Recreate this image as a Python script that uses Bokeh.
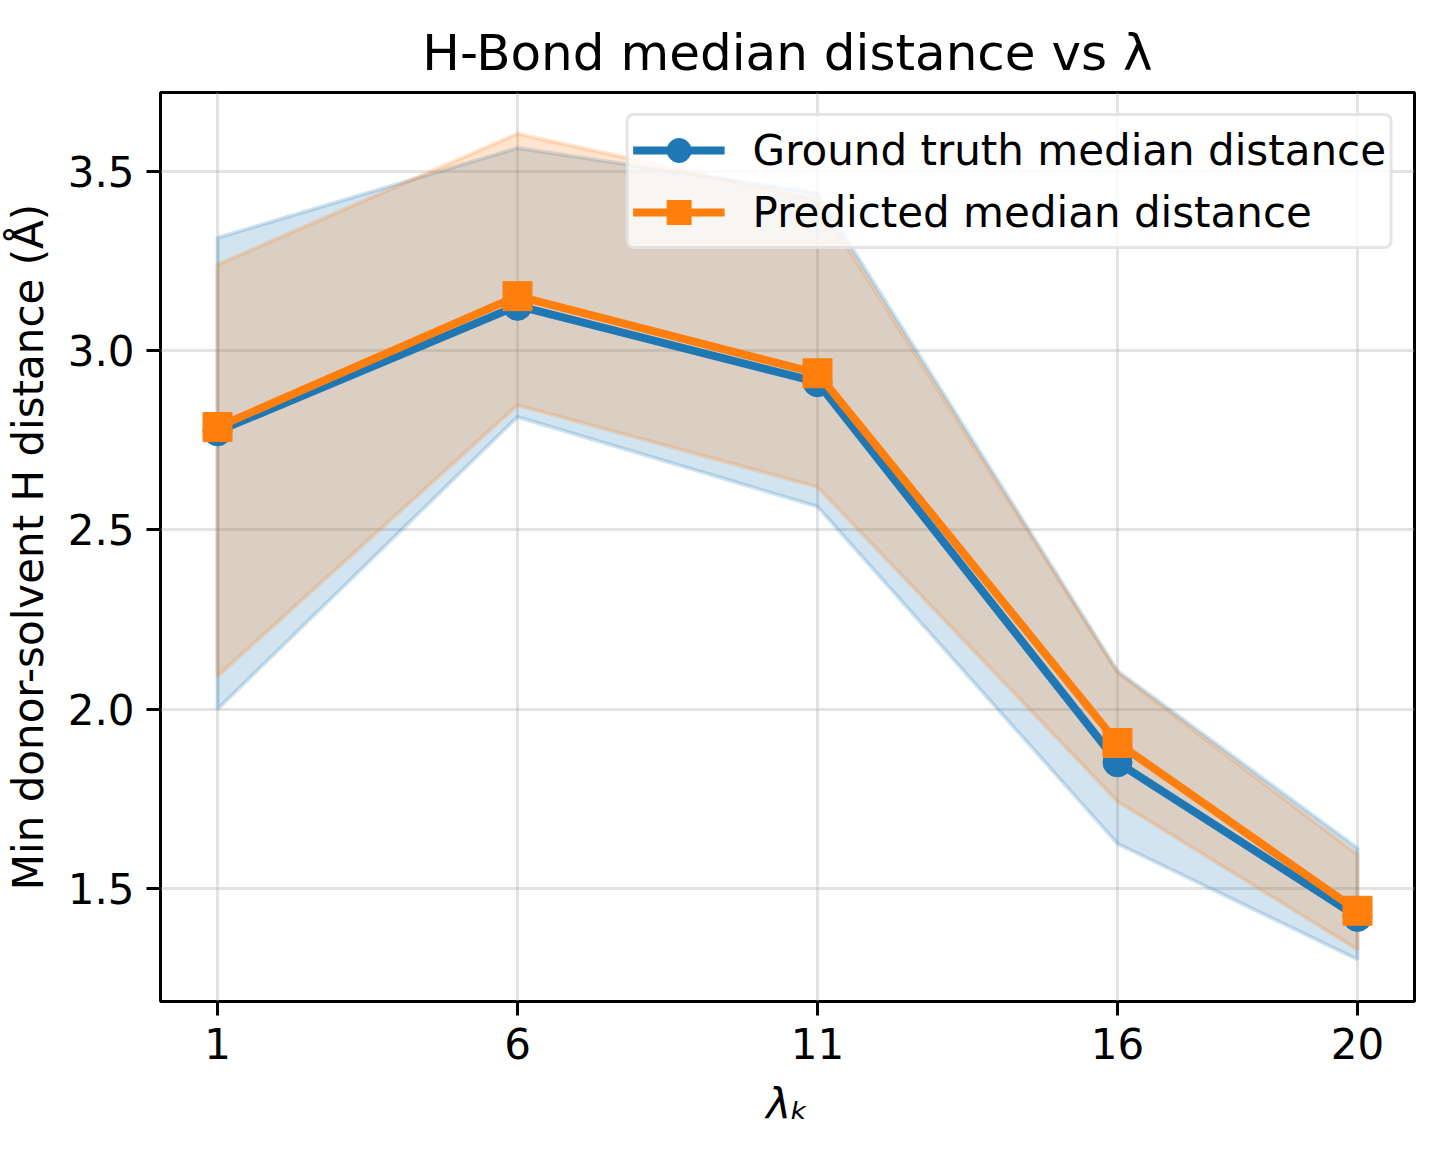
from bokeh.plotting import figure
from bokeh.models import Range1d, FixedTicker, Legend, LegendItem, PrintfTickFormatter
from bokeh.embed import file_html
from bokeh.resources import INLINE

# lambda windows
lam = [1, 6, 11, 16, 20]
tick_labels = ["1", "6", "11", "16", "20"]
y_ticks = [1.5, 2.0, 2.5, 3.0, 3.5]

# ground truth median distance with its spread band
gt_median = [2.775, 3.125, 2.912, 1.852, 1.421]
gt_lower = [2.00, 2.815, 2.565, 1.625, 1.302]
gt_upper = [3.315, 3.565, 3.44, 2.107, 1.613]

# predicted median distance with its spread band
pred_median = [2.787, 3.152, 2.937, 1.906, 1.438]
pred_lower = [2.092, 2.848, 2.62, 1.743, 1.330]
pred_upper = [3.240, 3.605, 3.42, 2.102, 1.595]

BLUE = "#1f77b4"
ORANGE = "#ff7f0e"
FONT = "DejaVu Sans"

p = figure(
    width=1444, height=1160,
    output_backend="svg", toolbar_location=None,
    x_range=Range1d(0.05, 20.95), y_range=Range1d(1.185, 3.72),
    min_border_left=160, min_border_right=30,
    min_border_top=92, min_border_bottom=159,
    title="H-Bond median distance vs λ",
)
p.background_fill_color = "white"
p.border_fill_color = "white"
p.outline_line_color = "black"
p.outline_line_width = 3

p.title.text_font = FONT
p.title.text_font_size = "50px"
p.title.text_font_style = "normal"
p.title.text_color = "black"
p.title.align = "center"
p.title.standoff = 22

# spread bands (closed polygon upper -> lower)
def band(lower, upper, color):
    xs = list(lam) + list(lam[::-1])
    ys = list(upper) + list(lower[::-1])
    p.patch(xs, ys, fill_color=color, fill_alpha=0.2,
            line_color=color, line_alpha=0.2, line_width=4)

band(gt_lower, gt_upper, BLUE)
band(pred_lower, pred_upper, ORANGE)

gt_line = p.line(lam, gt_median, line_color=BLUE, line_width=8)
gt_pts = p.scatter(lam, gt_median, marker="circle", size=29,
                   fill_color=BLUE, line_color=BLUE)
pr_line = p.line(lam, pred_median, line_color=ORANGE, line_width=8)
pr_pts = p.scatter(lam, pred_median, marker="square", size=29,
                   fill_color=ORANGE, line_color=ORANGE)

# axes
for ax in (p.xaxis[0], p.yaxis[0]):
    ax.axis_line_color = None
    ax.major_tick_line_color = "black"
    ax.major_tick_line_width = 3
    ax.major_tick_out = 14
    ax.major_tick_in = 0
    ax.minor_tick_line_color = None
    ax.major_label_text_font = FONT
    ax.major_label_text_font_size = "42px"
    ax.major_label_text_color = "black"
    ax.major_label_standoff = 12
    ax.axis_label_text_font = FONT
    ax.axis_label_text_font_size = "42px"
    ax.axis_label_text_color = "black"

p.xaxis.ticker = FixedTicker(ticks=lam)
p.xaxis.major_label_overrides = {v: s for v, s in zip(lam, tick_labels)}
p.xaxis.axis_label = "λₖ"
p.xaxis.axis_label_text_font_style = "italic"
p.xaxis.axis_label_standoff = 18

p.yaxis.ticker = FixedTicker(ticks=y_ticks)
p.yaxis.formatter = PrintfTickFormatter(format="%.1f")
p.yaxis.axis_label = "Min donor-solvent H distance (Å)"
p.yaxis.axis_label_text_font_style = "normal"
p.yaxis.axis_label_standoff = 12

for g in (p.xgrid[0], p.ygrid[0]):
    g.grid_line_color = "#b0b0b0"
    g.grid_line_alpha = 0.35
    g.grid_line_width = 3
p.xgrid.ticker = FixedTicker(ticks=lam)
p.ygrid.ticker = FixedTicker(ticks=y_ticks)

legend = Legend(
    items=[
        LegendItem(label="Ground truth median distance", renderers=[gt_line, gt_pts]),
        LegendItem(label="Predicted median distance", renderers=[pr_line, pr_pts]),
    ],
    location="top_right",
    margin=21,
    padding=4,
    spacing=2,
    glyph_width=92,
    glyph_height=60,
    label_standoff=28,
    label_text_font=FONT,
    label_text_font_size="42px",
    label_text_color="black",
    background_fill_color="white",
    background_fill_alpha=0.8,
    border_line_color="#cccccc",
    border_line_width=3,
    border_radius=8,
)
p.add_layout(legend)

open("out.html", "w").write(file_html(p, INLINE))
